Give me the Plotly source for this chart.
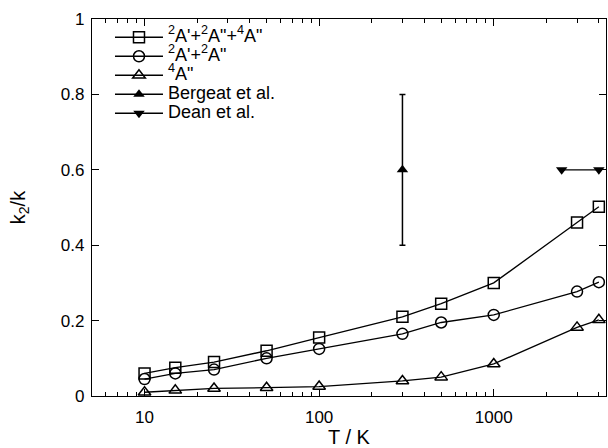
import plotly.graph_objects as go

T = [10, 15, 25, 50, 100, 300, 500, 1000, 3000, 4000]
total = [0.06, 0.075, 0.09, 0.12, 0.155, 0.21, 0.245, 0.30, 0.46, 0.502]
doublet = [0.045, 0.06, 0.07, 0.10, 0.125, 0.165, 0.195, 0.215, 0.277, 0.302]
quartet = [0.01, 0.015, 0.02, 0.022, 0.025, 0.04, 0.05, 0.085, 0.182, 0.202]

bergeat_T = [300]
bergeat_v = [0.6]
bergeat_err = [0.2]

dean_T = [2450, 4000]
dean_v = [0.6, 0.6]

names = ["<sup>2</sup>A'+<sup>2</sup>A\"+<sup>4</sup>A\"",
         "<sup>2</sup>A'+<sup>2</sup>A\"",
         "<sup>4</sup>A\"",
         "Bergeat et al.",
         "Dean et al."]


def big(s):
    return '<span style="font-size:18px">' + s + '</span>'


FONT = "Liberation Sans, Arial, sans-serif"
fig = go.Figure()
line = dict(color="black", width=1.3)
fig.add_trace(go.Scatter(x=T, y=total, mode="lines+markers", name=big(names[0]), line=line,
                         marker=dict(symbol="square-open", size=11, color="black", line=dict(width=1.5))))
fig.add_trace(go.Scatter(x=T, y=doublet, mode="lines+markers", name=big(names[1]), line=line,
                         marker=dict(symbol="circle-open", size=11, color="black", line=dict(width=1.5))))
fig.add_trace(go.Scatter(x=T, y=quartet, mode="lines+markers", name=big(names[2]), line=line,
                         marker=dict(symbol="triangle-up-open", size=11, color="black", line=dict(width=1.5))))
fig.add_trace(go.Scatter(x=bergeat_T, y=bergeat_v, mode="lines+markers", name=big(names[3]), line=line,
                         marker=dict(symbol="triangle-up", size=10, color="black"),
                         error_y=dict(type="data", array=bergeat_err, color="black", thickness=1.5, width=3)))
fig.add_trace(go.Scatter(x=dean_T, y=dean_v, mode="lines+markers", name=big(names[4]), line=line,
                         marker=dict(symbol="triangle-down", size=10, color="black")))

minor_vals = sorted(set(m * d for d in (1, 10, 100, 1000) for m in range(2, 10)
                        if 6 <= m * d <= 4400))

fig.update_layout(
    width=608, height=448,
    margin=dict(l=92, r=2, t=19, b=52),
    plot_bgcolor="white", paper_bgcolor="white",
    font=dict(family=FONT, size=17, color="black"),
    showlegend=True,
    legend=dict(x=0.035, y=0.99, xanchor="left", yanchor="top", bgcolor="rgba(0,0,0,0)",
                font=dict(size=12), tracegroupgap=0, itemwidth=48),
    xaxis=dict(type="log", range=[0.699, 3.643], tickvals=[10, 100, 1000], ticktext=["10", "100", "1000"],
               ticks="inside", ticklen=7, tickcolor="black", showline=True, linecolor="black", linewidth=1.3,
               mirror="ticks", showgrid=False, zeroline=False, automargin=False, ticklabelstandoff=5,
               minor=dict(ticks="inside", ticklen=4, tickcolor="black", tickvals=minor_vals, showgrid=False),
               title=dict(text="T / K", standoff=15)),
    yaxis=dict(range=[0, 1], tickvals=[0, 0.2, 0.4, 0.6, 0.8, 1], ticktext=["0", "0.2", "0.4", "0.6", "0.8", "1"],
               ticks="inside", ticklen=7, tickcolor="black", showline=True, linecolor="black", linewidth=1.3,
               mirror="ticks", showgrid=False, zeroline=False, automargin=False, ticklabelstandoff=3,
               title=dict(text="k<sub>2</sub>/k", standoff=29)),
)
fig.write_html("out.html")
